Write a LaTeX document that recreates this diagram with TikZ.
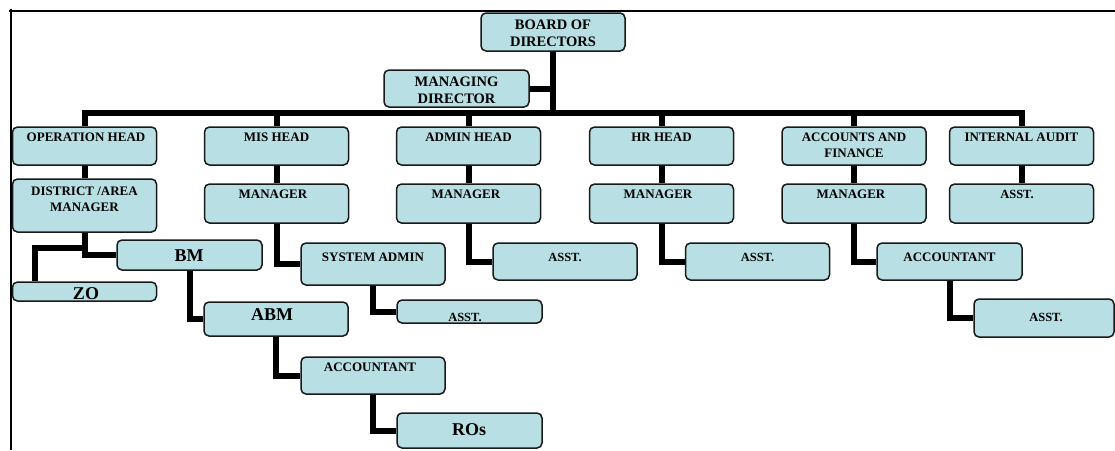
\documentclass[tikz,border=0pt]{standalone}
\usepackage{fontspec}
\setmainfont{Liberation Serif}
\usetikzlibrary{backgrounds}
\definecolor{boxfill}{RGB}{184,223,227}
\begin{document}
\begin{tikzpicture}[x=1pt,y=-1pt,
  orgbox/.style={draw=black!90,line width=1.5pt,fill=boxfill,rounded corners=5pt,
    inner sep=0pt,minimum width=144pt},
  lbl/.style={inner sep=0pt,font=\bfseries\fontsize{13}{16}\selectfont,align=center},
  lblsmall/.style={lbl,font=\bfseries\fontsize{12.5}{15}\selectfont},
  lbltop/.style={lbl,font=\bfseries\fontsize{14.5}{17}\selectfont},
  lblbig/.style={lbl,font=\bfseries\fontsize{18}{21}\selectfont},
  link/.style={line width=6pt,black}]
\useasboundingbox (0,0) rectangle (1115,450);

% outer frame: top and left edges only
\draw[line width=1.6pt] (11,450) -- (11,9);
\draw[line width=1.6pt] (9,11) -- (1115,11);

% top management
\node[orgbox,minimum height=38pt] (board) at (553,32) {};
\node[orgbox,minimum height=37pt,minimum width=145pt] (md) at (456.5,88.5) {};

% heads of departments
\node[orgbox,minimum height=38pt] (ophead) at (84.5,146) {};
\node[orgbox,minimum height=38pt] (mishead) at (276.5,146) {};
\node[orgbox,minimum height=38pt] (adminhead) at (468.5,146) {};
\node[orgbox,minimum height=38pt] (hrhead) at (661.5,146) {};
\node[orgbox,minimum height=38pt] (afhead) at (854,146) {};
\node[orgbox,minimum height=38pt] (iahead) at (1021.5,146) {};

% second level
\node[orgbox,minimum height=53pt] (district) at (84.5,205.5) {};
\node[orgbox,minimum height=39pt] (mismgr) at (276.5,203.5) {};
\node[orgbox,minimum height=39pt] (adminmgr) at (468.5,203.5) {};
\node[orgbox,minimum height=39pt] (hrmgr) at (661.5,203.5) {};
\node[orgbox,minimum height=39pt] (afmgr) at (854,203.5) {};
\node[orgbox,minimum height=39pt] (iaasst) at (1021.5,203.5) {};

% third level
\node[orgbox,minimum height=30pt,minimum width=145pt] (bm) at (189.5,255) {};
\node[orgbox,minimum height=19pt] (zo) at (84.5,291.5) {};
\node[orgbox,minimum height=42pt] (sysadmin) at (373,264) {};
\node[orgbox,minimum height=37pt] (adminasst) at (565,261.5) {};
\node[orgbox,minimum height=37pt] (hrasst) at (757.5,261.5) {};
\node[orgbox,minimum height=37pt,minimum width=145pt] (afacct) at (949.5,261.5) {};

% lower levels
\node[orgbox,minimum height=34pt] (abm) at (276,319) {};
\node[orgbox,minimum height=23pt,minimum width=145pt] (sysasst) at (469.5,311.5) {};
\node[orgbox,minimum height=37pt] (opsacct) at (373,375.5) {};
\node[orgbox,minimum height=35pt,minimum width=145pt] (ros) at (469.5,430.5) {};
\node[orgbox,minimum height=38pt,minimum width=140pt] (afasst) at (1044,318) {};

% labels
\node[lbltop,anchor=north] (tboard) at (553,19.2) {BOARD OF\\DIRECTORS};
\node[lbltop,anchor=north] (tmd) at (456.5,76.2) {MANAGING\\DIRECTOR};
\node[lbl,anchor=base] (tophead) at (86,141.3) {OPERATION HEAD};
\node[lbl,anchor=base] (tmishead) at (276.5,141.3) {MIS HEAD};
\node[lbl,anchor=base] (tadminhead) at (468.5,141.3) {ADMIN HEAD};
\node[lbl,anchor=base] (thrhead) at (661.5,141.3) {HR HEAD};
\node[lbl,anchor=north] (tafhead) at (854,132.7) {ACCOUNTS AND\\FINANCE};
\node[lbl,anchor=base] (tiahead) at (1021.5,141.3) {INTERNAL AUDIT};
\node[lbl,anchor=north] (tdistrict) at (84.5,186.7) {DISTRICT /AREA\\MANAGER};
\node[lbl,anchor=base] (tmismgr) at (273,198.8) {MANAGER};
\node[lbl,anchor=base] (tadminmgr) at (466,198.8) {MANAGER};
\node[lbl,anchor=base] (thrmgr) at (658,198.8) {MANAGER};
\node[lbl,anchor=base] (tafmgr) at (851,198.8) {MANAGER};
\node[lblsmall,anchor=base] (tiaasst) at (1017,198.8) {ASST.};
\node[lblbig,anchor=base] (tbm) at (189,261) {BM};
\node[lblbig,anchor=base] (tzo) at (86,299) {ZO};
\node[lbl,anchor=base] (tsysadmin) at (373,261.3) {SYSTEM ADMIN};
\node[lblsmall,anchor=base] (tadminasst) at (565,261.6) {ASST.};
\node[lblsmall,anchor=base] (thrasst) at (757.5,261.6) {ASST.};
\node[lbl,anchor=base] (tafacct) at (949.5,261.3) {ACCOUNTANT};
\node[lblbig,anchor=base] (tabm) at (272,320) {ABM};
\node[lblsmall,anchor=base] (tsysasst) at (465,321.1) {ASST.};
\node[lbl,anchor=base] (topsacct) at (370,371.3) {ACCOUNTANT};
\node[lblbig,anchor=base] (tros) at (469,435) {ROs};
\node[lblsmall,anchor=base] (tafasst) at (1046,321) {ASST.};

% reporting lines, drawn beneath the boxes
\coordinate (bus) at (0,113);
\coordinate (zoknee) at (35,248);
\begin{scope}[on background layer]
  \draw[link] (board.south) -- (board.south |- bus);
  \draw[link] (md.east) -- (md.east -| board.south);
  \draw[link,line cap=rect] (ophead.north |- bus) -- (iahead.north |- bus);
  \foreach \h in {ophead,mishead,adminhead,hrhead,afhead,iahead}
    \draw[link] (\h.north) -- (\h.north |- bus);
  \draw[link] (ophead.south) -- (district.north);
  \draw[link] (mishead.south) -- (mismgr.north);
  \draw[link] (adminhead.south) -- (adminmgr.north);
  \draw[link] (hrhead.south) -- (hrmgr.north);
  \draw[link] (afhead.south) -- (afmgr.north);
  \draw[link] (iahead.south) -- (iaasst.north);
  \draw[link] (district.south) |- (bm.west);
  \draw[link] (district.south |- zoknee) -- (zoknee) -- (zoknee |- zo.north);
  \draw[link] (mismgr.south) |- (sysadmin.west);
  \draw[link] (adminmgr.south) |- (adminasst.west);
  \draw[link] (hrmgr.south) |- (hrasst.west);
  \draw[link] (afmgr.south) |- (afacct.west);
  \draw[link] (bm.south) |- (abm.west);
  \draw[link] (sysadmin.south) |- (sysasst.west);
  \draw[link] (abm.south) |- (opsacct.west);
  \draw[link] (opsacct.south) |- (ros.west);
  \draw[link] (afacct.south) |- (afasst.west);
\end{scope}
\end{tikzpicture}
\end{document}
